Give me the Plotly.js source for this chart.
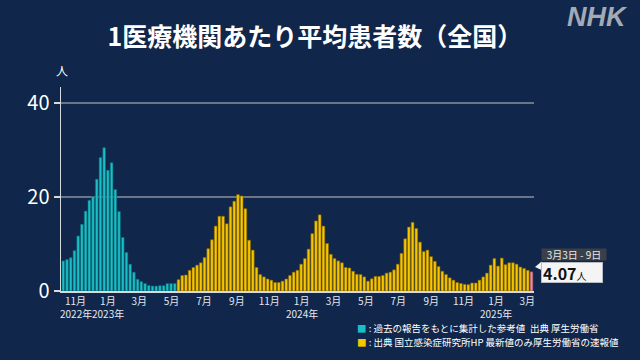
<!DOCTYPE html>
<html>
<head>
<meta charset="utf-8">
<script src="https://cdn.plot.ly/plotly-3.0.1.min.js"></script>
<style>
html,body{margin:0;padding:0;background:#10264a;}
#chart{width:640px;height:360px;}
</style>
</head>
<body>
<div id="chart"></div>
<script>
// Weekly values (per sentinel medical institution)
const cyanStartWeekEnd = '2022-10-09';   // reference values (retrospective estimate)
const cyanValues = [6.4, 6.7, 7.1, 8.6, 11.7, 14.2, 17.0, 19.3, 20.1, 23.8, 28.4, 30.5, 25.7, 27.3, 21.6, 16.9, 11.4, 8.2, 5.7, 4.0, 2.5, 2.0, 1.6, 1.2, 1.07, 1.05, 1.15, 1.15, 1.6, 1.6, 1.6];

const yellowStartWeekEnd = '2023-05-14'; // NIID values
const yellowValues = [2.4, 3.3, 3.4, 4.4, 5.0, 5.5, 6.0, 7.1, 9.0, 10.9, 13.8, 15.9, 15.9, 14.3, 17.9, 19.1, 20.5, 20.2, 17.5, 10.8, 8.7, 5.0, 3.5, 3.0, 2.55, 2.3, 1.8, 1.8, 2.1, 2.55, 3.3, 4.0, 4.4, 5.7, 6.9, 8.9, 12.2, 14.9, 16.2, 13.8, 10.1, 7.8, 6.9, 6.4, 6.0, 5.0, 4.9, 4.2, 3.55, 3.5, 3.0, 2.1, 2.6, 3.1, 3.1, 3.3, 3.8, 4.0, 4.5, 5.7, 8.0, 11.1, 13.6, 14.6, 13.3, 10.4, 8.4, 8.7, 7.3, 6.3, 5.2, 4.2, 3.5, 2.8, 2.3, 1.8, 1.6, 1.4, 1.35, 1.7, 1.7, 2.3, 3.0, 3.8, 5.5, 6.9, 5.3, 7.0, 5.6, 6.0, 6.0, 5.7, 5.1, 4.8, 4.4];

const latestWeekEnd = '2025-03-09';
const latestValue = [4.07];
const latestLabel = '3月3日 - 9日';

const tickDates = ['2022-11-01','2023-01-01','2023-03-01','2023-05-01','2023-07-01','2023-09-01','2023-11-01','2024-01-01','2024-03-01','2024-05-01','2024-07-01','2024-09-01','2024-11-01','2025-01-01','2025-03-01'];
const tickLabels = ['11月','1月','3月','5月','7月','9月','11月','1月','3月','5月','7月','9月','11月','1月','3月'];
const yearDates = ['2022-11-01','2023-01-01','2024-01-01','2025-01-01'];
const yearLabels = ['2022年','2023年','2024年','2025年'];

const yTicks = [0, 20, 40];

function weeks(start, n) {
  const out = [];
  const d0 = new Date(start + 'T00:00:00Z');
  for (let i = 0; i < n; i++) {
    const d = new Date(d0.getTime() + i * 7 * 864e5);
    out.push(d.toISOString().slice(0, 10));
  }
  return out;
}

const barW = 5.1 * 864e5;
const FONT = '"Noto Sans CJK JP", "Noto Sans", sans-serif';

const traces = [
  {type:'bar', x: weeks(cyanStartWeekEnd, cyanValues.length), y: cyanValues, width: barW,
   marker:{color:'#1bbdc6', line:{color:'#0a6470', width:0.6}}, hoverinfo:'skip', showlegend:false},
  {type:'bar', x: weeks(yellowStartWeekEnd, yellowValues.length), y: yellowValues, width: barW,
   marker:{color:'#f7c600', line:{color:'#8a6a00', width:0.6}}, hoverinfo:'skip', showlegend:false},
  {type:'bar', x: [latestWeekEnd], y: latestValue, width: barW,
   marker:{color:'#ee8fa0', line:{color:'#8a4a55', width:0.6}}, hoverinfo:'skip', showlegend:false}
];

// plot area in pixels: x 61..534, y 87..291
const L = 61, R = 534, T = 87, B = 291;
const px = v => (v - L) / (R - L);
const py = v => (B - v) / (B - T);

const annotations = [
  {text: '人', xref: 'paper', yref: 'paper', x: px(61.5), y: py(70), xanchor: 'center', yanchor: 'middle',
   showarrow: false, font: {size: 12, color: '#ffffff'}},
  {text: '<b><i>NHK</i></b>', xref: 'paper', yref: 'paper', x: px(630), y: py(17), xanchor: 'right', yanchor: 'middle',
   showarrow: false, font: {family: '"Liberation Sans", Arial, sans-serif', size: 27, color: '#a3aab5'}},
  {text: latestLabel, xref: 'paper', yref: 'paper', x: px(541), y: py(254), xanchor: 'left', yanchor: 'middle',
   showarrow: false, width: 64, height: 11, borderpad: 0, align: 'center', bgcolor: '#3b4048',
   font: {size: 10, color: '#e8e8e8'}},
  {text: '<b>' + latestValue[0].toFixed(2) + '</b><span style="font-size:10px">人</span>', xref: 'paper', yref: 'paper',
   x: px(541), y: py(272.5), xanchor: 'left', yanchor: 'middle',
   showarrow: false, width: 58, height: 17, borderpad: 1, borderwidth: 1, bordercolor: '#b8bcc2', align: 'left', bgcolor: '#f4f4f4',
   font: {size: 16, color: '#111111'}},
  {text: '<span style="color:#1bbdc6">■</span> : 過去の報告をもとに集計した参考値\u2002出典 厚生労働省', xref: 'paper', yref: 'paper',
   x: px(355), y: py(327.5), xanchor: 'left', yanchor: 'middle', showarrow: false, font: {size: 9.5, color: '#ffffff'}},
  {text: '<span style="color:#f7c600">■</span> : 出典 国立感染症研究所HP 最新値のみ厚生労働省の速報値', xref: 'paper', yref: 'paper',
   x: px(355), y: py(341.5), xanchor: 'left', yanchor: 'middle', showarrow: false, font: {size: 9.5, color: '#ffffff'}}
];
yearDates.forEach((d, i) => annotations.push({
  text: yearLabels[i], xref: 'x', yref: 'paper', x: d, y: py(313), xanchor: 'center', yanchor: 'middle',
  showarrow: false, font: {size: 10, color: '#e6e8ec'}
}));

const layout = {
  width: 640, height: 360,
  paper_bgcolor: '#10264a', plot_bgcolor: '#10264a',
  margin: {l: L, r: 640 - R, t: T, b: 360 - B, pad: 0},
  barmode: 'overlay',
  font: {family: FONT, color: '#ffffff'},
  title: {text: '<b>1医療機関あたり平均患者数（全国）</b>', font: {family: FONT, size: 25, color: '#ffffff'},
          xref: 'container', yref: 'container', x: 315/640, xanchor: 'center', y: 1 - 37/360, yanchor: 'middle'},
  xaxis: {
    type: 'date', range: ['2022-10-04 16:00', '2025-03-13 17:00'],
    tickvals: tickDates, ticktext: tickLabels, tickfont: {size: 10, color: '#e6e8ec'}, tickangle: 0,
    ticks: '', showgrid: false, showline: true, linecolor: '#d6d9de', linewidth: 1.5,
    zeroline: false, fixedrange: true
  },
  yaxis: {
    range: [0, 43.4], tickvals: yTicks, ticktext: yTicks.map(String),
    tickfont: {size: 20, color: '#ffffff'}, ticks: 'outside', ticklen: 6, tickwidth: 1.5, tickcolor: '#d6d9de',
    showgrid: true, gridcolor: '#6a7688', gridwidth: 1.5, showline: true, linecolor: '#d6d9de', linewidth: 1.5,
    zeroline: false, fixedrange: true
  },
  shapes: [
    {type: 'path', xref: 'paper', yref: 'paper', layer: 'above',
     path: `M ${px(535)} ${py(267)} L ${px(541.5)} ${py(261.5)} L ${px(541.5)} ${py(270)} Z`,
     fillcolor: '#f2f2f2', line: {width: 0}}
  ],
  annotations: annotations
};

Plotly.newPlot('chart', traces, layout, {staticPlot: true, displayModeBar: false});
</script>
</body>
</html>
